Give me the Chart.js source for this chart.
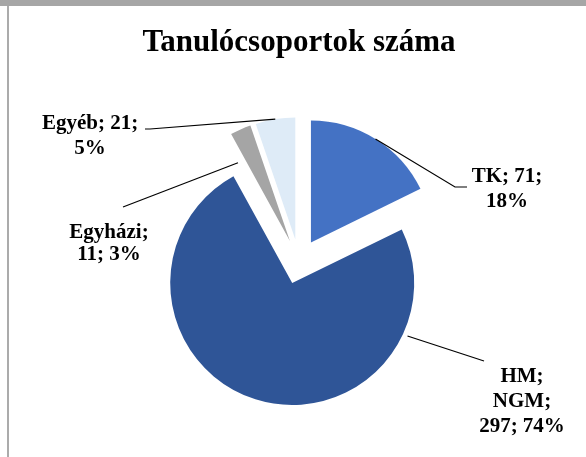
<!DOCTYPE html>
<html>
<head>
<meta charset="utf-8">
<title>Tanulócsoportok száma</title>
<script src="https://cdn.jsdelivr.net/npm/chart.js@4/dist/chart.umd.min.js"></script>
<style>
  html, body { margin: 0; padding: 0; background: #fff; }
  canvas { display: block; }
</style>
</head>
<body>
<canvas id="tg_chart" width="586" height="457"></canvas>
<script>
  'use strict';

  //  data
  var categories   = ['TK', 'HM; NGM', 'Egyházi', 'Egyéb'];
  var group_counts = [71, 297, 11, 21];
  var slice_colors = ['#4472C4', '#2F5597', '#A5A5A5', '#DEEBF7'];

  var title_text  = 'Tanulócsoportok száma',
      explode_px  = 22.5,
      font_family = '"Liberation Serif", "Times New Roman", serif';

  //  where the data labels sit (at = position along the slice, r = share of radius)
  var label_layout = [
    {x: 507, y: 182, lh: 25,   at: 0.5,   r: 1.0,  wrap: [2, 1],    line: [[455, 187], [467, 187]]},
    {x: 522, y: 382, lh: 25,   at: 0.19,  r: 1.04, wrap: [1, 1, 2], line: [[484, 361]]},
    {x: 109, y: 238, lh: 21.5, at: -0.48, r: 0.77, wrap: [1, 2],    line: [[123, 207]]},
    {x: 90,  y: 129, lh: 25,   at: 0.5,   r: 1.0,  wrap: [2, 1],    line: [[150, 129], [145, 129]]}
  ];

  var total = group_counts.reduce(function(s, v) { return s + v; }, 0);

  /**
   * [labelLines "name; value; pct%" split into the wrapped lines]
   */
  function labelLines(i) {
    var words = (categories[i] + '; ' + group_counts[i] + '; ' + Math.round(group_counts[i] / total * 100) + '%').split(' '),
        lines = [], k = 0;

    label_layout[i].wrap.forEach(function(n) {
      lines.push(words.slice(k, k + n).join(' '));
      k += n;
    });
    return lines;
  }

  //  page frame (grey top strip + left rule)
  var framePlugin = {
    id: 'frame',
    beforeDraw: function(chart) {
      var ctx = chart.ctx;
      ctx.save();
      ctx.fillStyle = '#fff';
      ctx.fillRect(0, 0, chart.width, chart.height);
      ctx.fillStyle = '#A6A6A6';
      ctx.fillRect(0, 0, chart.width, 6);
      ctx.fillStyle = '#ABABAB';
      ctx.fillRect(7, 6, 2, chart.height - 6);
      ctx.restore();
    }
  };

  //  pull every slice out from the centre
  var explodePlugin = {
    id: 'explodeSlices',
    beforeDatasetDraw: function(chart, args) {
      var ctx = chart.ctx;

      args.meta.data.forEach(function(arc) {
        var mid = (arc.startAngle + arc.endAngle) / 2;
        ctx.save();
        ctx.translate(Math.cos(mid) * explode_px, Math.sin(mid) * explode_px);
        arc.draw(ctx);
        ctx.restore();
      });
      return false;
    }
  };

  //  data labels with leader lines
  var labelPlugin = {
    id: 'sliceLabels',
    afterDatasetsDraw: function(chart) {
      var ctx  = chart.ctx,
          arcs = chart.getDatasetMeta(0).data;

      ctx.save();
      arcs.forEach(function(arc, i) {
        var lay = label_layout[i],
            mid = (arc.startAngle + arc.endAngle) / 2,
            cx  = arc.x + Math.cos(mid) * explode_px,
            cy  = arc.y + Math.sin(mid) * explode_px,
            a   = arc.startAngle + (arc.endAngle - arc.startAngle) * lay.at,
            r   = arc.outerRadius * lay.r;

        ctx.strokeStyle = '#000';
        ctx.lineWidth = 1.2;
        ctx.beginPath();
        ctx.moveTo(cx + Math.cos(a) * r, cy + Math.sin(a) * r);
        lay.line.forEach(function(p) { ctx.lineTo(p[0], p[1]); });
        ctx.stroke();

        ctx.fillStyle = '#000';
        ctx.font = 'bold 21px ' + font_family;
        ctx.textAlign = 'center';
        ctx.textBaseline = 'alphabetic';
        labelLines(i).forEach(function(txt, n) {
          ctx.fillText(txt, lay.x, lay.y + n * lay.lh);
        });
      });
      ctx.restore();
    }
  };

  var ctx = document.getElementById('tg_chart').getContext('2d');

  var tg_chart = new Chart(ctx, {
    type: 'pie',
    data: {
      labels: categories,
      datasets: [{
        data: group_counts,
        backgroundColor: slice_colors,
        borderWidth: 0,
        radius: 122,
        clip: false
      }]
    },
    options: {
      responsive: false,
      animation: false,
      layout: {
        padding: {left: 12, right: 0, top: 0, bottom: 0}
      },
      plugins: {
        legend: {display: false},
        tooltip: {enabled: false},
        title: {
          display: true,
          text: title_text,
          color: '#000',
          font: {family: font_family, size: 31, weight: 'bold', lineHeight: 1.2},
          padding: {top: 24, bottom: 5}
        }
      }
    },
    plugins: [framePlugin, explodePlugin, labelPlugin]
  });
</script>
</body>
</html>
